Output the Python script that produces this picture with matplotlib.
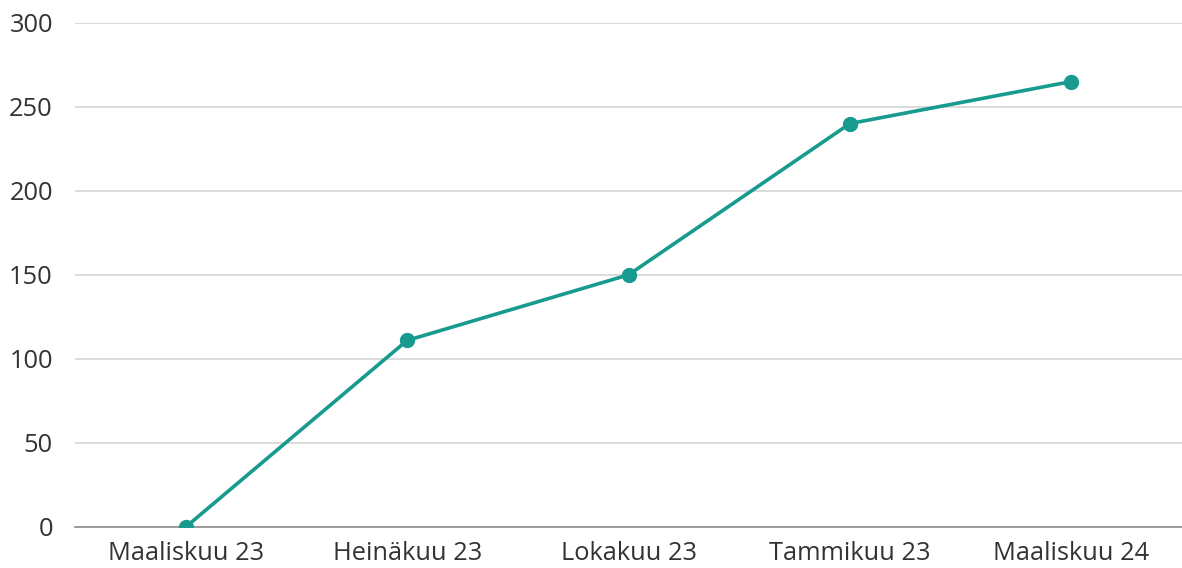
import matplotlib
matplotlib.use("Agg")
import matplotlib.pyplot as plt

# data
months = ["Maaliskuu 23", "Heinäkuu 23", "Lokakuu 23", "Tammikuu 23", "Maaliskuu 24"]
values = [0, 111, 150, 240, 265]
yticks = [0, 50, 100, 150, 200, 250, 300]

plt.rcParams['font.family'] = ['Open Sans', 'DejaVu Sans']

fig = plt.figure(figsize=(11.82, 5.68), dpi=100)
ax = fig.add_axes([0.0635, 0.0722, 0.9365, 0.8878])

x = range(len(months))
ax.plot(x, values, color='#179b8f', linewidth=2.6, marker='o', markersize=10,
        solid_capstyle='round', zorder=3)

ax.set_xlim(-0.5, len(months) - 0.5)
ax.set_ylim(0, 300)
ax.set_yticks(yticks)
ax.set_xticks(list(x))
ax.set_xticklabels(months)

ax.grid(axis='y', color='#d4d4d4', linewidth=1.2)
ax.set_axisbelow(True)
for s in ['top', 'right', 'left']:
    ax.spines[s].set_visible(False)
ax.spines['bottom'].set_color('#8c8c8c')
ax.spines['bottom'].set_linewidth(1.2)

ax.tick_params(axis='both', length=0, labelsize=18.3, labelcolor='#333333')
ax.tick_params(axis='y', pad=16)
ax.tick_params(axis='x', pad=10)

fig.savefig("out.png", dpi=100)
